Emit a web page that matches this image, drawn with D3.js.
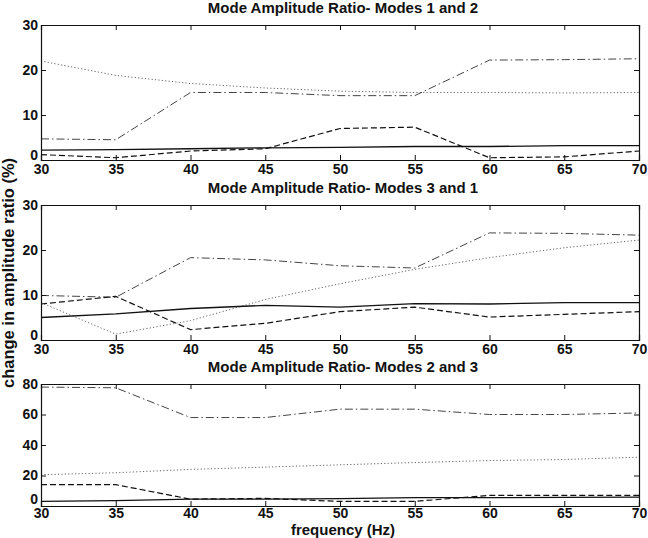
<!DOCTYPE html>
<html><head><meta charset="utf-8">
<script src="https://cdn.jsdelivr.net/npm/d3@7"></script>
<style>
html,body{margin:0;padding:0;background:#fff;}
svg{display:block;}
text{font-family:"Liberation Sans",Arial,Helvetica,sans-serif;font-weight:bold;fill:#111;}
</style></head>
<body>
<script>
const freq = [30, 35, 40, 45, 50, 55, 60, 65, 70];
const xTicks = [30, 35, 40, 45, 50, 55, 60, 65, 70];

const titles = ["Mode Amplitude Ratio- Modes 1 and 2", "Mode Amplitude Ratio- Modes 3 and 1", "Mode Amplitude Ratio- Modes 2 and 3"];
const yMax = [30, 30, 80];
const yTicks1 = [0, 10, 20, 30];
const yTicks2 = [0, 10, 20, 30];
const yTicks3 = [0, 20, 40, 60, 80];

// Panel 1: Modes 1 and 2
const p1Solid   = [2.2, 2.3, 2.5, 2.7, 2.8, 3.0, 3.0, 3.2, 3.2];
const p1Dashed  = [1.2, 0.5, 2.0, 2.5, 7.0, 7.3, 0.5, 0.7, 2.0];
const p1Dotted  = [22.0, 18.8, 17.0, 16.0, 15.3, 15.0, 15.0, 14.9, 15.0];
const p1DashDot = [4.7, 4.5, 15.0, 15.0, 14.3, 14.3, 22.2, 22.3, 22.5];

// Panel 2: Modes 3 and 1
const p2Solid   = [5.0, 5.8, 7.0, 7.7, 7.3, 8.1, 8.0, 8.3, 8.3];
const p2Dashed  = [8.0, 9.7, 2.3, 3.7, 6.3, 7.3, 5.1, 5.7, 6.3];
const p2Dotted  = [8.3, 1.3, 4.3, 9.0, 12.5, 15.7, 18.3, 20.5, 22.2];
const p2DashDot = [9.9, 9.5, 18.3, 17.8, 16.5, 16.0, 23.8, 23.7, 23.3];

// Panel 3: Modes 2 and 3
const p3Solid   = [3.0, 3.5, 4.5, 4.5, 4.8, 5.5, 5.5, 5.7, 5.8];
const p3Dashed  = [14.0, 14.0, 4.5, 5.0, 3.0, 3.0, 7.0, 7.0, 7.0];
const p3Dotted  = [20.5, 21.8, 24.0, 25.5, 27.0, 28.5, 29.8, 30.5, 32.0];
const p3DashDot = [78.0, 77.5, 58.0, 58.0, 63.5, 63.5, 60.0, 60.0, 61.0];

const panels = [
  {title: titles[0], ymax: yMax[0], yticks: yTicks1, series: [p1Dotted, p1DashDot, p1Dashed, p1Solid]},
  {title: titles[1], ymax: yMax[1], yticks: yTicks2, series: [p2Dotted, p2DashDot, p2Dashed, p2Solid]},
  {title: titles[2], ymax: yMax[2], yticks: yTicks3, series: [p3Dotted, p3DashDot, p3Dashed, p3Solid]}
];
const styles = [
  {dash: "1.2,2.2", stroke: "#666", width: 1},
  {dash: "8,3,1.5,3", stroke: "#444", width: 1},
  {dash: "6,3", stroke: "#111", width: 1.2},
  {dash: null, stroke: "#111", width: 1.3}
];

const W = 648, H = 538;
const left = 41, right = 639;
const tops = [25, 205, 384];
const bottoms = [160, 340, 506];

const svg = d3.select("body").append("svg").attr("width", W).attr("height", H);
const x = d3.scaleLinear().domain([30, 70]).range([left, right]);

panels.forEach((p, i) => {
  const top = tops[i], bottom = bottoms[i];
  const y = d3.scaleLinear().domain([0, p.ymax]).range([bottom, top]);
  const g = svg.append("g");

  const line = d3.line().x((d, k) => x(freq[k])).y(d => y(d));
  p.series.forEach((s, k) => {
    const st = styles[k];
    g.append("path").datum(s).attr("d", line)
      .attr("fill", "none").attr("stroke", st.stroke).attr("stroke-width", st.width)
      .attr("stroke-dasharray", st.dash);
  });

  const tickLen = 5;
  const xb = g.append("g").attr("transform", `translate(0,${bottom})`)
    .call(d3.axisBottom(x).tickValues(xTicks).tickSize(-tickLen).tickPadding(i === 2 ? 2 : 4).tickFormat(d3.format("d")));
  const xt = g.append("g").attr("transform", `translate(0,${top})`)
    .call(d3.axisTop(x).tickValues(xTicks).tickSize(-tickLen).tickFormat(""));
  const yl = g.append("g").attr("transform", `translate(${left},0)`)
    .call(d3.axisLeft(y).tickValues(p.yticks).tickSize(-tickLen).tickPadding(3).tickFormat(d3.format("d")));
  const yr = g.append("g").attr("transform", `translate(${right},0)`)
    .call(d3.axisRight(y).tickValues(p.yticks).tickSize(-tickLen).tickFormat(""));
  [xb, xt, yl, yr].forEach(a => {
    a.select(".domain").attr("stroke", "#111").attr("stroke-width", 1.2);
    a.selectAll(".tick line").attr("stroke", "#111").attr("stroke-width", 1);
    a.selectAll("text").attr("font-size", 14).attr("font-weight", "bold")
      .attr("font-family", "'Liberation Sans',Arial,sans-serif").attr("fill", "#111");
  });
  // keep the zero label of the y axis just clear of the first x label
  yl.selectAll(".tick").filter(d => d === 0).select("text").attr("dy", i === 2 ? "-0.15em" : "-0.05em");

  g.append("text").attr("x", (left + right) / 2 + 3).attr("y", top - 12)
    .attr("text-anchor", "middle").attr("font-size", 15).text(p.title);
});

svg.append("text").attr("transform", `translate(14,273) rotate(-90)`)
  .attr("text-anchor", "middle").attr("font-size", 16.5).text("change in amplitude ratio (%)");
svg.append("text").attr("x", (left + right) / 2 + 3).attr("y", 534.5)
  .attr("text-anchor", "middle").attr("font-size", 15).text("frequency (Hz)");
</script>
</body></html>
